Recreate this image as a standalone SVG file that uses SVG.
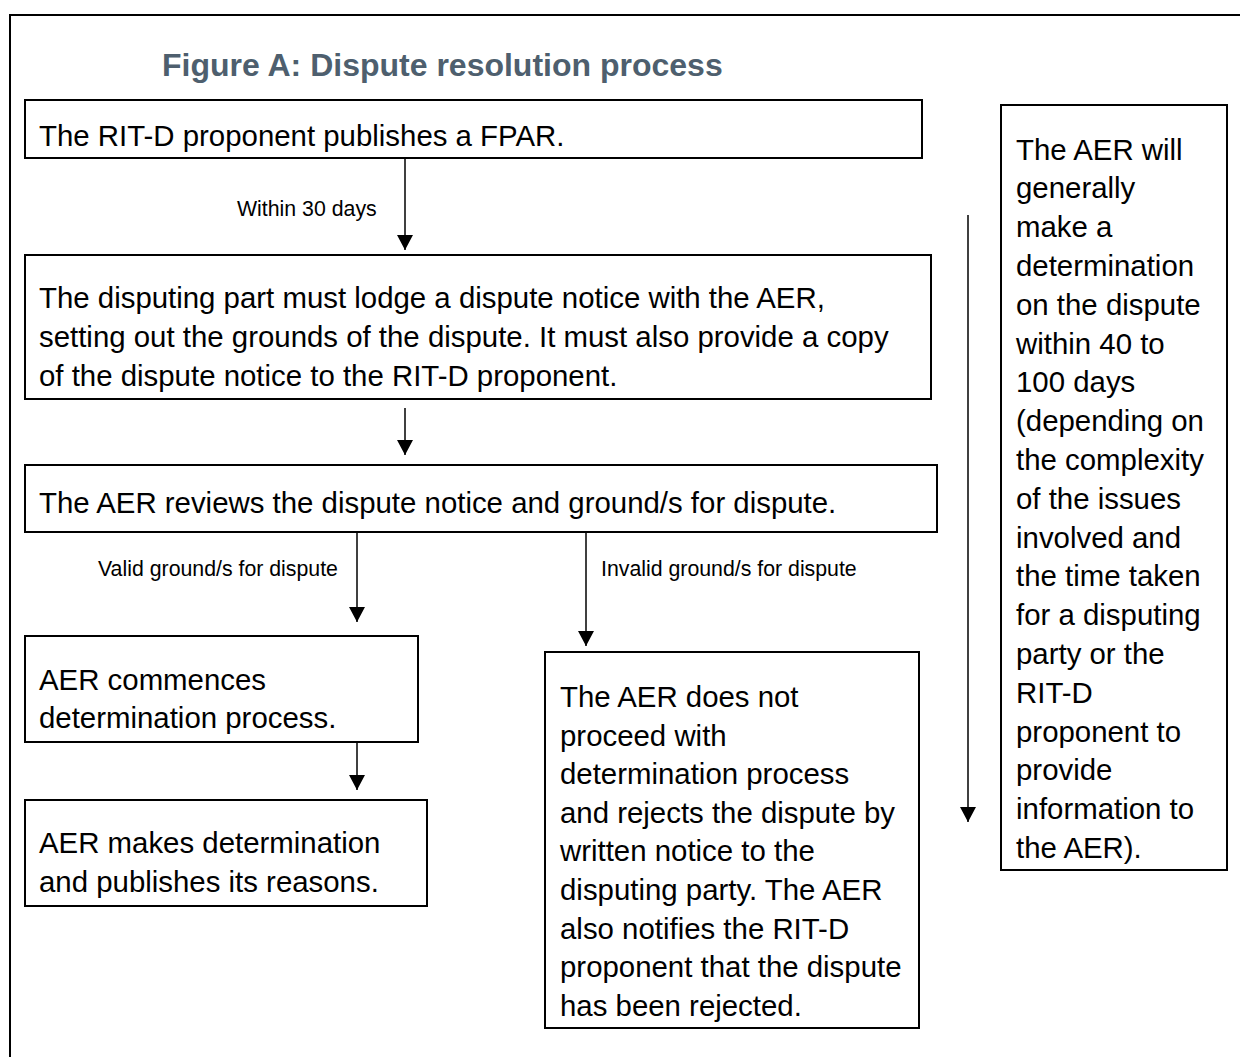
<svg xmlns="http://www.w3.org/2000/svg" width="1240" height="1057" viewBox="0 0 1240 1057">
<style>
.box{fill:#fff;stroke:#000;stroke-width:2}
.t{font-family:"Liberation Sans",Arial,sans-serif;font-size:29.4px;fill:#000}
.s{font-family:"Liberation Sans",Arial,sans-serif;font-size:21.3px;fill:#000}
.title{font-family:"Liberation Sans",Arial,sans-serif;font-size:32px;font-weight:bold;fill:#4E5F6E}
.c{stroke:#000;stroke-width:1.5;fill:none;marker-end:url(#ah)}
</style>
<defs>
<marker id="ah" markerUnits="userSpaceOnUse" markerWidth="16" markerHeight="16" refX="15" refY="8" orient="auto">
<path d="M0,0 L15,8 L0,16 z" fill="#000"/>
</marker>
</defs>
<rect x="0" y="0" width="1240" height="1057" fill="#fff"/>
<rect x="10" y="15" width="1260" height="1070" fill="none" stroke="#000" stroke-width="2"/>
<text class="title" x="162" y="76">Figure A: Dispute resolution process</text>

<g id="connectors">
<line class="c" x1="405" y1="158" x2="405" y2="250"/>
<text class="s" x="237" y="216">Within 30 days</text>
<line class="c" x1="405" y1="408" x2="405" y2="455"/>
<line class="c" x1="357" y1="532" x2="357" y2="622"/>
<text class="s" x="98" y="576">Valid ground/s for dispute</text>
<line class="c" x1="586" y1="532" x2="586" y2="646"/>
<text class="s" x="601" y="576">Invalid ground/s for dispute</text>
<line class="c" x1="357" y1="742" x2="357" y2="790"/>
<line class="c" x1="968" y1="215" x2="968" y2="822"/>
</g>

<g id="n1">
<rect class="box" x="25" y="100" width="897" height="58"/>
<text class="t" x="39" y="146">The RIT-D proponent publishes a FPAR.</text>
</g>
<g id="n2">
<rect class="box" x="25" y="255" width="906" height="144"/>
<text class="t" x="39" y="308">The disputing part must lodge a dispute notice with the AER,</text>
<text class="t" x="39" y="347">setting out the grounds of the dispute. It must also provide a copy</text>
<text class="t" x="39" y="386">of the dispute notice to the RIT-D proponent.</text>
</g>
<g id="n3">
<rect class="box" x="25" y="465" width="912" height="67"/>
<text class="t" x="39" y="513">The AER reviews the dispute notice and ground/s for dispute.</text>
</g>
<g id="n4">
<rect class="box" x="25" y="636" width="393" height="106"/>
<text class="t" x="39" y="690">AER commences</text>
<text class="t" x="39" y="728">determination process.</text>
</g>
<g id="n5">
<rect class="box" x="25" y="800" width="402" height="106"/>
<text class="t" x="39" y="853">AER makes determination</text>
<text class="t" x="39" y="892">and publishes its reasons.</text>
</g>
<g id="n6">
<rect class="box" x="545" y="652" width="374" height="376"/>
<text class="t" x="560" y="707">The AER does not</text>
<text class="t" x="560" y="745.6">proceed with</text>
<text class="t" x="560" y="784.2">determination process</text>
<text class="t" x="560" y="822.8">and rejects the dispute by</text>
<text class="t" x="560" y="861.4">written notice to the</text>
<text class="t" x="560" y="900">disputing party. The AER</text>
<text class="t" x="560" y="938.6">also notifies the RIT-D</text>
<text class="t" x="560" y="977.2">proponent that the dispute</text>
<text class="t" x="560" y="1015.8">has been rejected.</text>
</g>
<g id="n7">
<rect class="box" x="1001" y="105" width="226" height="765"/>
<text class="t" x="1016" y="159.5">The AER will</text>
<text class="t" x="1016" y="198.3">generally</text>
<text class="t" x="1016" y="237.1">make a</text>
<text class="t" x="1016" y="275.9">determination</text>
<text class="t" x="1016" y="314.7">on the dispute</text>
<text class="t" x="1016" y="353.5">within 40 to</text>
<text class="t" x="1016" y="392.3">100 days</text>
<text class="t" x="1016" y="431.1">(depending on</text>
<text class="t" x="1016" y="469.9">the complexity</text>
<text class="t" x="1016" y="508.7">of the issues</text>
<text class="t" x="1016" y="547.5">involved and</text>
<text class="t" x="1016" y="586.3">the time taken</text>
<text class="t" x="1016" y="625.1">for a disputing</text>
<text class="t" x="1016" y="663.9">party or the</text>
<text class="t" x="1016" y="702.7">RIT-D</text>
<text class="t" x="1016" y="741.5">proponent to</text>
<text class="t" x="1016" y="780.3">provide</text>
<text class="t" x="1016" y="819.1">information to</text>
<text class="t" x="1016" y="857.9">the AER).</text>
</g>
</svg>
